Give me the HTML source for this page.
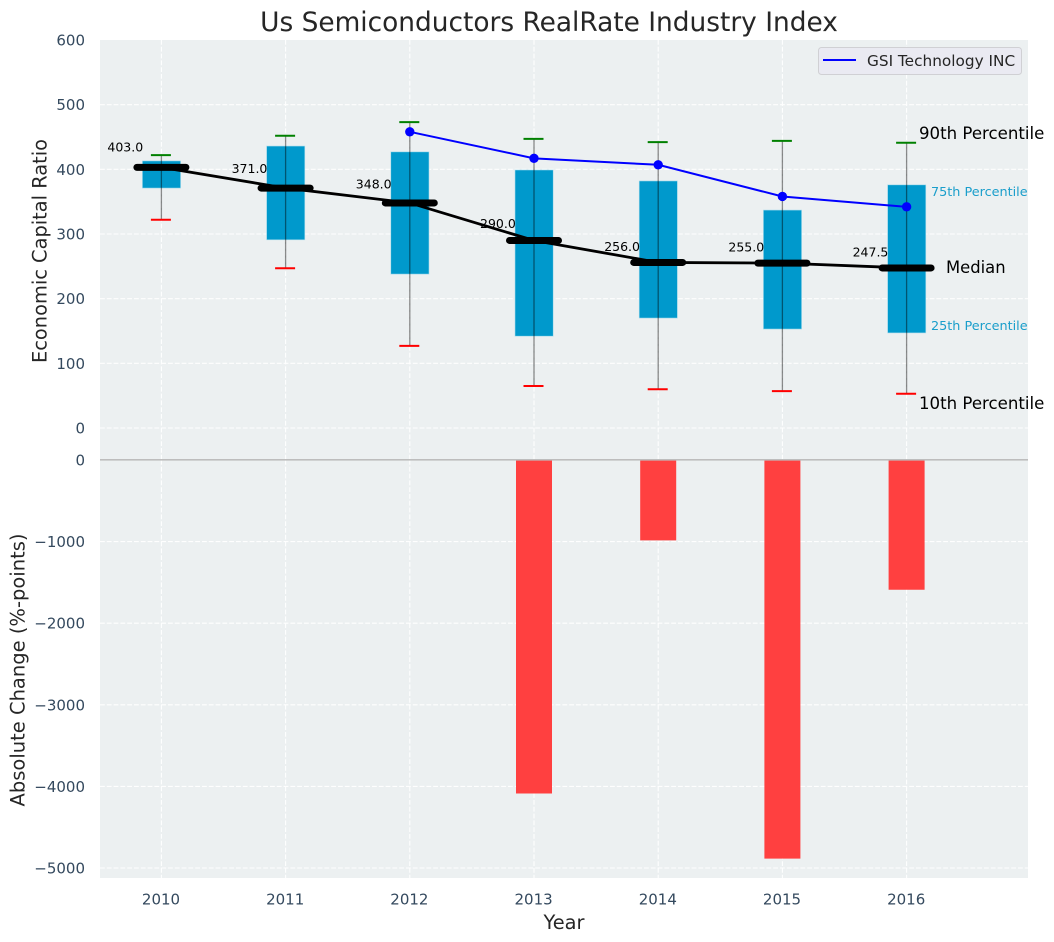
<!DOCTYPE html>
<html lang="en">
<head>
<meta charset="utf-8">
<title>Us Semiconductors RealRate Industry Index</title>
<style>
html,body{margin:0;padding:0;background:#fff}
svg{display:block;font-family:"DejaVu Sans","Liberation Sans",sans-serif}
</style>
</head>
<body>
<svg id="chart" xmlns="http://www.w3.org/2000/svg" width="1054" height="942" viewBox="0 0 1054 942">
  <rect x="0" y="0" width="1054" height="942" fill="#ffffff"/>
  <rect x="100" y="40" width="928" height="419" fill="#ecf0f1"/>
  <rect x="100" y="460" width="928" height="418" fill="#ecf0f1"/>
  <g id="grid"></g>
  <g id="bars"></g>
  <rect x="100" y="459" width="928" height="1.6" fill="#bdbdbd"/>
  <g id="boxes"></g>
  <g id="medians"></g>
  <g id="company"></g>
  <g id="ticks"></g>
  <text x="549" y="31" font-size="26.4" fill="#262626" text-anchor="middle">Us Semiconductors RealRate Industry Index</text>
  <text transform="translate(46.5,251) rotate(-90)" font-size="19.4" fill="#262626" text-anchor="middle">Economic Capital Ratio</text>
  <text transform="translate(24.5,670) rotate(-90)" font-size="19.5" fill="#262626" text-anchor="middle">Absolute Change (%-points)</text>
  <text x="564" y="929" font-size="19.4" fill="#262626" text-anchor="middle">Year</text>
  <g>
    <rect x="818.5" y="47.5" width="203" height="27" rx="3" fill="#eaeaf2" stroke="#d0d0d4" stroke-width="1"/>
    <line x1="823" y1="60" x2="856" y2="60" stroke="#0000ff" stroke-width="2"/>
    <text x="867" y="66" font-size="15.3" fill="#262626">GSI Technology INC</text>
  </g>
  <g>
    <text x="919" y="139" font-size="16.6" fill="#000000">90th Percentile</text>
    <text x="931" y="196" font-size="12.8" fill="#1a9ecb">75th Percentile</text>
    <text x="946" y="273" font-size="16.4" fill="#000000">Median</text>
    <text x="931" y="330" font-size="12.8" fill="#1a9ecb">25th Percentile</text>
    <text x="919" y="409" font-size="16.6" fill="#000000">10th Percentile</text>
  </g>
</svg>
<script>
const years = [2010, 2011, 2012, 2013, 2014, 2015, 2016];
const p10Values = [322, 247, 127, 65, 60, 57, 53];
const q1Values = [371, 291, 238, 142, 170, 153, 147];
const medianValues = [403, 371, 348, 290, 256, 255, 247.5];
const q3Values = [413, 436, 427, 399, 382, 337, 376];
const p90Values = [422, 452, 473, 447, 442, 444, 441];
const companyYears = [2012, 2013, 2014, 2015, 2016];
const companyValues = [458, 417, 407, 358, 342];
const changeYears = [2013, 2014, 2015, 2016];
const changeValues = [-4087, -985, -4885, -1590];
const topTicks = [0, 100, 200, 300, 400, 500, 600];
const bottomTicks = [0, -1000, -2000, -3000, -4000, -5000];

const NS = 'http://www.w3.org/2000/svg';
const xScale = function (year) { return 161.4 + (year - 2010) * 124.2; };
const yTop = function (v) { return 428 - v * 0.6467; };
const yBottom = function (v) { return 460 - v * 0.0816; };

function mk(parentId, tag, attrs, text) {
  const el = document.createElementNS(NS, tag);
  for (const k in attrs) { el.setAttribute(k, attrs[k]); }
  if (text !== undefined) { el.textContent = text; }
  document.getElementById(parentId).appendChild(el);
  return el;
}
const dash = { stroke: '#ffffff', 'stroke-width': 1.1, 'stroke-dasharray': '4.8 2', opacity: 0.95 };
function gridLine(x1, y1, x2, y2) {
  return mk('grid', 'line', Object.assign({ x1: x1, y1: y1, x2: x2, y2: y2 }, dash));
}

topTicks.forEach(function (t) {
  const y = yTop(t);
  if (t !== 600) {
    const g = gridLine(100, y, 1028, y);
    
    
  }
  const lab = mk('ticks', 'text', { x: 85, y: y + 5.5, 'font-size': 15, fill: '#34495e', 'text-anchor': 'end' }, String(t));
  
  
});
bottomTicks.forEach(function (t) {
  const y = yBottom(t);
  if (t !== 0) {
    const g = gridLine(100, y, 1028, y);
    
    
  }
  const lab = mk('ticks', 'text', { x: 85, y: y + 5.5, 'font-size': 15, fill: '#34495e', 'text-anchor': 'end' }, String(t).replace('-', '\u2212'));
  
  
});
years.forEach(function (yr) {
  const x = xScale(yr);
  const g1 = gridLine(x, 40, x, 459);
  
  
  const g2 = gridLine(x, 460, x, 878);
  
  
  const lab = mk('ticks', 'text', { x: x - 0.4, y: 904.5, 'font-size': 15, fill: '#34495e', 'text-anchor': 'middle' }, String(yr));
  
  
});

changeYears.forEach(function (yr, i) {
  const x = xScale(yr);
  const y0 = yBottom(0);
  const y1 = yBottom(changeValues[i]);
  const bar = mk('bars', 'rect', { x: x - 18, y: y0, width: 36, height: y1 - y0, fill: '#ff4040' });
  
  
});

years.forEach(function (yr, i) {
  const x = xScale(yr);
  const box = mk('boxes', 'rect', { x: x - 19, y: yTop(q3Values[i]), width: 38.2, height: yTop(q1Values[i]) - yTop(q3Values[i]), fill: '#0099cc', stroke: '#a9dcec', 'stroke-width': 0.6 });
  
  
  const whisker = mk('boxes', 'line', { x1: x, y1: yTop(p10Values[i]), x2: x, y2: yTop(p90Values[i]), stroke: '#000000', 'stroke-opacity': 0.45, 'stroke-width': 1.3 });
  
  
  const capHigh = mk('boxes', 'line', { x1: x - 10.5, y1: yTop(p90Values[i]), x2: x + 9.5, y2: yTop(p90Values[i]), stroke: '#008000', 'stroke-width': 2 });
  
  
  const capLow = mk('boxes', 'line', { x1: x - 10.5, y1: yTop(p10Values[i]), x2: x + 9.5, y2: yTop(p10Values[i]), stroke: '#ff0000', 'stroke-width': 2 });
  
  
});

const medianLine = mk('medians', 'polyline', {
  points: years.map(function (yr, i) { return xScale(yr) + ',' + yTop(medianValues[i]); }).join(' '),
  fill: 'none', stroke: '#000000', 'stroke-width': 2.8
});


years.forEach(function (yr, i) {
  const x = xScale(yr);
  const y = yTop(medianValues[i]);
  const seg = mk('medians', 'line', { x1: x - 24.5, y1: y, x2: x + 24.5, y2: y, stroke: '#000000', 'stroke-width': 7, 'stroke-linecap': 'round' });
  
  
  const off = 15 + (medianValues[i] - 247.5) * 0.03;
  const lab = mk('medians', 'text', { x: x - 18.2, y: y - off + 3.7, 'font-size': 12.5, fill: '#000000', 'text-anchor': 'end' }, medianValues[i].toFixed(1));
  
  
});

const companyLine = mk('company', 'polyline', {
  points: companyYears.map(function (yr, i) { return xScale(yr) + ',' + yTop(companyValues[i]); }).join(' '),
  fill: 'none', stroke: '#0000ff', 'stroke-width': 2
});


companyYears.forEach(function (yr, i) {
  const pt = mk('company', 'circle', { cx: xScale(yr), cy: yTop(companyValues[i]), r: 4.7, fill: '#0000ff' });
  
  
});
</script>
</body>
</html>
